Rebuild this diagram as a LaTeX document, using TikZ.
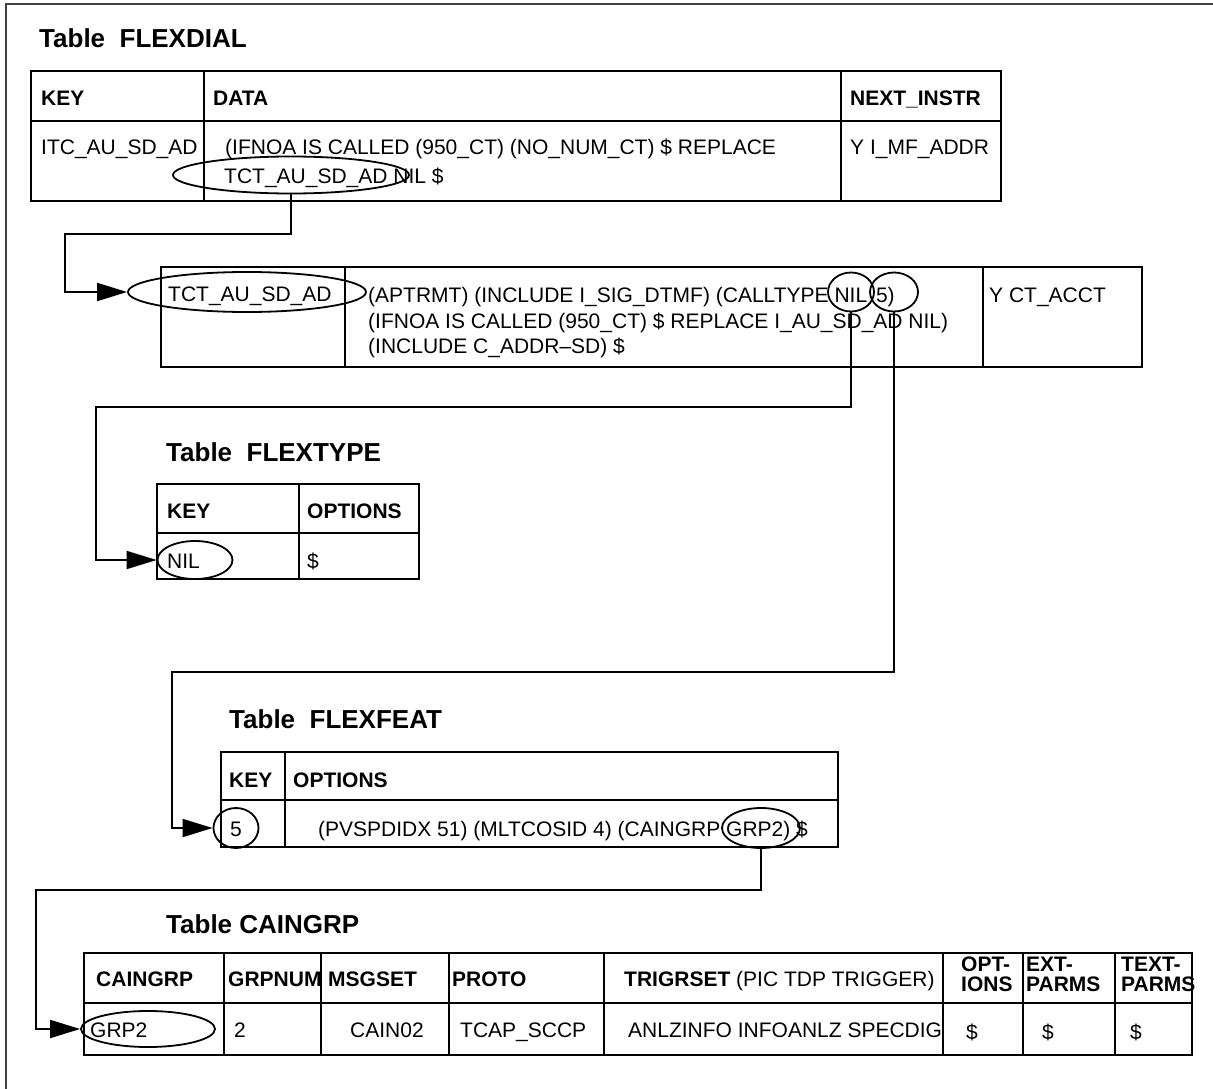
\documentclass[tikz,border=0pt]{standalone}
\usepackage{fontspec}
\setmainfont{Liberation Sans}
\usetikzlibrary{arrows.meta,shapes.geometric}
\tikzset{
  tab/.style={line width=2pt},
  cell/.style={anchor=base west,inner sep=0pt,font=\fontsize{21}{24}\selectfont},
  head/.style={cell,font=\fontsize{21}{24}\selectfont\bfseries},
  ttl/.style={anchor=base west,inner sep=0pt,font=\fontsize{26}{30}\selectfont\bfseries},
  ring/.style={draw,ellipse,line width=1.8pt,inner sep=0pt},
  flow/.style={-{Triangle[length=30pt,width=18pt]},line width=1.8pt},
}

\begin{document}
\begin{tikzpicture}[x=1pt,y=-1pt]
  \useasboundingbox (0,0) rectangle (1213,1089);
  \draw[line width=1.2pt,black!75] (1213,4) -- (6,4) -- (6,1089);

  % Table FLEXDIAL
  \node[ttl] (tdial) at (39,48) {Table\ \ FLEXDIAL};
  \draw[tab] (31,71) rectangle (1001,201) (31,121) -- (1001,121)
    (204,71) -- (204,201) (841,71) -- (841,201);
  \node[head] (dkey) at (41,106) {KEY};
  \node[head] (ddata) at (213,106) {DATA};
  \node[head] (dnext) at (850,106) {NEXT\_INSTR};
  \node[cell] (dk) at (41,155) {ITC\_AU\_SD\_AD};
  \node[cell] (dd1) at (225,155) {(IFNOA IS CALLED (950\_CT) (NO\_NUM\_CT) \$ REPLACE};
  \node[cell] (dd2) at (224,183) {TCT\_AU\_SD\_AD NIL \$};
  \node[cell] (dn) at (850,155) {Y I\_MF\_ADDR};
  \node[ring,minimum width=236pt,minimum height=37pt] (e1) at (291,175) {};

  % second FLEXDIAL tuple
  \draw[tab] (161,267) rectangle (1142,367) (345,267) -- (345,367)
    (983,267) -- (983,367);
  \node[cell] (tk) at (168,301) {TCT\_AU\_SD\_AD};
  \node[cell] (td1) at (368,302) {(APTRMT) (INCLUDE I\_SIG\_DTMF) (CALLTYPE NIL \kern3pt5)};
  \node[cell] (td2) at (368,328) {(IFNOA IS CALLED (950\_CT) \$ REPLACE I\_AU\_SD\_AD NIL)};
  \node[cell] (td3) at (368,353) {(INCLUDE C\_ADDR–SD) \$};
  \node[cell] (tn) at (989,302) {Y CT\_ACCT};
  \node[ring,minimum width=238pt,minimum height=40pt] (e2) at (247,292) {};
  \node[ring,minimum width=46pt,minimum height=39pt] (enil) at (851,292) {};
  \node[ring,minimum width=48pt,minimum height=39pt] (efive) at (894,292) {};

  % Table FLEXTYPE
  \node[ttl] (ttype) at (166,461) {Table\ \ FLEXTYPE};
  \draw[tab] (157,484) rectangle (419,579) (157,533) -- (419,533)
    (299,484) -- (299,579);
  \node[head] (ykey) at (167,518) {KEY};
  \node[head] (yopt) at (307,518) {OPTIONS};
  \node[cell] (yk) at (167,568) {NIL};
  \node[cell] (yo) at (307,568) {\$};
  \node[ring,minimum width=75pt,minimum height=38pt] (enil2) at (195,560) {};

  % Table FLEXFEAT
  \node[ttl] (tfeat) at (229,728) {Table\ \ FLEXFEAT};
  \draw[tab] (221,752) rectangle (838,847) (221,800) -- (838,800)
    (285,752) -- (285,847);
  \node[head] (fkey) at (229,787) {KEY};
  \node[head] (fopt) at (293,787) {OPTIONS};
  \node[cell] (fk) at (230,836) {5};
  \node[cell] (fo) at (318,836) {(PVSPDIDX 51) (MLTCOSID 4) (CAINGRP GRP2) \$};
  \node[ring,minimum width=45pt,minimum height=40pt] (efive2) at (236,828) {};
  \node[ring,minimum width=78pt,minimum height=40pt] (egrp) at (761,828) {};

  % Table CAINGRP
  \node[ttl] (tgrp) at (166,933) {Table CAINGRP};
  \draw[tab] (84,953) rectangle (1192,1055) (84,1003) -- (1192,1003);
  \foreach \cx in {224,321,449,604,943,1023,1115}
    \draw[tab] (\cx,953) -- (\cx,1055);
  \node[head] (gh1) at (96,986) {CAINGRP};
  \node[head] (gh2) at (228,986) {GRPNUM};
  \node[head] (gh3) at (328,986) {MSGSET};
  \node[head] (gh4) at (452,986) {PROTO};
  \node[head] (gh5) at (624,986) {TRIGRSET \mdseries(PIC TDP TRIGGER)};
  \node[head] (gh6a) at (961,971) {OPT-};
  \node[head] (gh6b) at (961,991) {IONS};
  \node[head] (gh7a) at (1026,971) {EXT-};
  \node[head] (gh7b) at (1026,991) {PARMS};
  \node[head] (gh8a) at (1121,971) {TEXT-};
  \node[head] (gh8b) at (1121,991) {PARMS};
  \node[cell] (gr1) at (90,1037) {GRP2};
  \node[cell] (gr2) at (234,1037) {2};
  \node[cell] (gr3) at (350,1037) {CAIN02};
  \node[cell] (gr4) at (460,1037) {TCAP\_SCCP};
  \node[cell] (gr5) at (628,1037) {ANLZINFO INFOANLZ SPECDIG};
  \node[cell] (gr6) at (966,1039) {\$};
  \node[cell] (gr7) at (1042,1039) {\$};
  \node[cell] (gr8) at (1130,1039) {\$};
  \node[ring,minimum width=134pt,minimum height=36pt] (egrp2) at (148,1029) {};

  % links
  \coordinate (k1) at (65,234);
  \coordinate (k2) at (96,407);
  \coordinate (k3) at (172,672);
  \coordinate (k4) at (36,890);
  \draw[flow] (e1.south) |- (k1) |- (e2.west);
  \draw[flow] (enil.south) |- (k2) |- (enil2.west);
  \draw[flow] (efive.south) |- (k3) |- (efive2.west);
  \draw[flow] (egrp.south) |- (k4) |- (egrp2.west);
\end{tikzpicture}
\end{document}
